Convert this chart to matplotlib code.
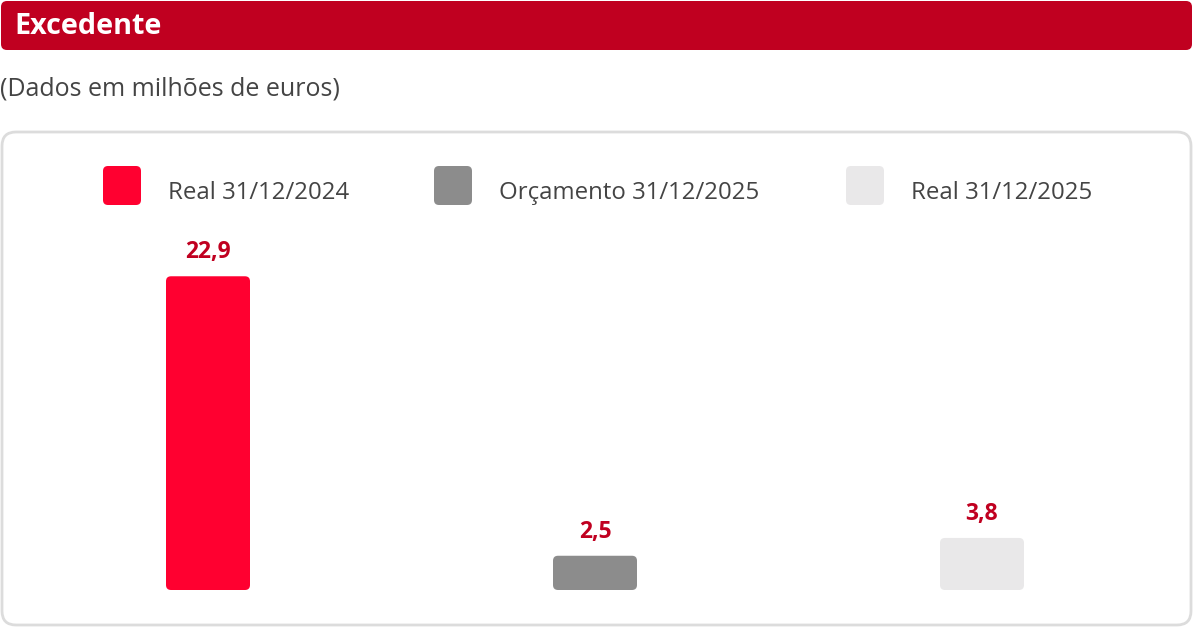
import numpy as np
import matplotlib.pyplot as plt
from matplotlib.patches import FancyBboxPatch

# Data
categories = ["Real 31/12/2024", "Orçamento 31/12/2025", "Real 31/12/2025"]
values = [22.9, 2.5, 3.8]
labels = ["22,9", "2,5", "3,8"]
colors = ["#FF0030", "#8C8C8C", "#E9E8E9"]

title = "Excedente"
subtitle = "(Dados em milhões de euros)"

plt.rcParams['font.family'] = ['Open Sans', 'DejaVu Sans']

W, H = 1194, 628
fig = plt.figure(figsize=(W / 100, H / 100), dpi=100)

# Background layer in pixel coordinates
bg = fig.add_axes([0, 0, 1, 1])
bg.set_xlim(0, W)
bg.set_ylim(H, 0)
bg.axis("off")

bg.add_patch(FancyBboxPatch((1, 1), 1191, 49, boxstyle="round,pad=0,rounding_size=6",
                            facecolor="#C00020", edgecolor="none"))
bg.text(14, 27, title, color="white", fontsize=20.7, fontweight="bold", va="center", ha="left")
bg.text(0, 89, subtitle, color="#444444", fontsize=18, va="center", ha="left")

bg.add_patch(FancyBboxPatch((2, 132), 1189, 493, boxstyle="round,pad=0,rounding_size=14",
                            facecolor="white", edgecolor="#DCDCDC", linewidth=2))

# Legend
leg_x = [103, 434, 846]
for x, c, name in zip(leg_x, colors, categories):
    bg.add_patch(FancyBboxPatch((x, 166), 38, 39, boxstyle="round,pad=0,rounding_size=5",
                                facecolor=c, edgecolor="none"))
    bg.text(x + 65, 193, name, color="#444444", fontsize=17.3, va="center", ha="left")

# Bars
zero_px, px_per_unit = 590, 13.7
ymax = 25
ax = fig.add_axes([14.5 / W, (H - zero_px) / H, 1161 / W, ymax * px_per_unit / H])
ax.set_xlim(-0.5, 2.5)
ax.set_ylim(0, ymax)
ax.axis("off")
ax.patch.set_alpha(0)

x = np.arange(len(values))
bw = 84 / 387
bars = ax.bar(x, values, width=bw, color=colors)
x_per_px = 1 / 387
y_per_px = 1 / px_per_unit
for b in bars:
    b.set_visible(False)
    ax.add_patch(FancyBboxPatch((b.get_x(), b.get_y()), b.get_width(), b.get_height(),
                                boxstyle=f"round,pad=0,rounding_size={5 * x_per_px}",
                                mutation_aspect=y_per_px / x_per_px,
                                facecolor=b.get_facecolor(), edgecolor="none"))

for xi, v, lab in zip(x, values, labels):
    ax.annotate(lab, (xi, v), xytext=(0, 12), textcoords="offset pixels",
                ha="center", va="bottom", color="#C00020", fontsize=16.5, fontweight="bold")

fig.savefig("out.png", dpi=100)
